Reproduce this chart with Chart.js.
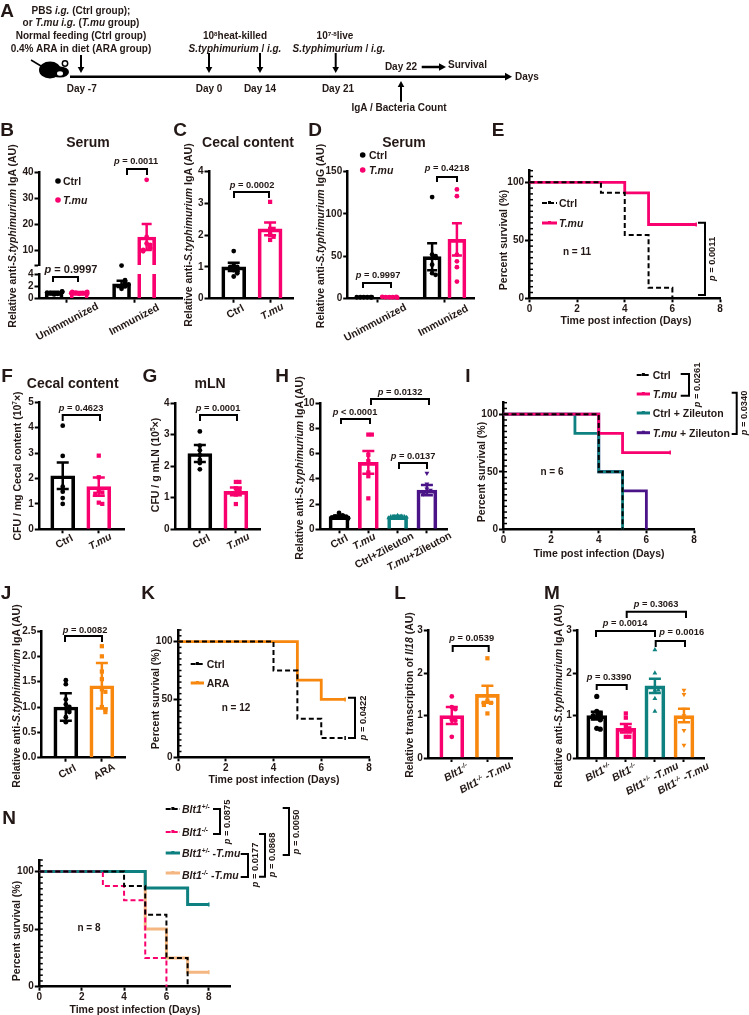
<!DOCTYPE html>
<html>
<head>
<meta charset="utf-8">
<script src="https://cdn.jsdelivr.net/npm/chart.js@4"></script>
<style>
  body { margin: 0; background: #fff; }
  #page { position: relative; width: 749px; height: 1015px; overflow: hidden; }
  #page canvas { position: absolute; left: 0; top: 0; }
  .t { position: absolute; white-space: nowrap; line-height: 1; font-weight: bold; color: #231815;
       font-family: "Liberation Sans", Arial, sans-serif; }
  sup { font-size: .62em; line-height: 0; vertical-align: .55em; }
</style>
</head>
<body>
<div id="page"></div>
<script>
// panel data
const unimmImm = ['Unimmunized', 'Immunized'];
const ctrlTmu = ['Ctrl', 'T.mu'];
const ctrlAra = ['Ctrl', 'ARA'];
const hCategories = ['Ctrl', 'T.mu', 'Ctrl+Zileuton', 'T.mu+Zileuton'];
const lCategories = ['Blt1-/-', 'Blt1-/- -T.mu'];
const mCategories = ['Blt1+/-', 'Blt1-/-', 'Blt1+/-  -T.mu', 'Blt1-/- -T.mu'];

const bMeans = [1.0, 1.0, 2.4, 15];
const bErrors = [0.12, 0.1, 0.5, 5];
const bCtrlUnimm = [0.7, 0.8, 0.9, 1.0, 1.0, 1.1, 1.2, 1.1];
const bTmuUnimm = [0.8, 0.9, 1.0, 1.0, 1.1, 1.1, 0.9, 0.8];
const bCtrlImm = [1.6, 2.0, 2.2, 2.5, 2.8, 3.0, 2.3, 4.0];
const bTmuImm = [37, 15, 12.5, 12, 11, 10.5, 10, 9.5];

const cMeans = [1.0, 2.2];
const cErrors = [0.13, 0.2];
const cCtrl = [1.5, 1.05, 1.0, 1.0, 0.9, 0.85, 0.8, 0.7];
const cTmu = [3.05, 2.2, 2.2, 2.1, 2.0, 1.95, 1.85];

const dMeans = [1.5, 1.5, 49.5, 70];
const dErrors = [0.5, 0.5, 16, 19];
const dCtrlUnimm = [1.5, 1.5, 1.5, 1.5, 1.5, 1.5];
const dTmuUnimm = [1.5, 1.5, 1.5, 2, 2, 1];
const dCtrlImm = [120, 52, 50, 48, 40, 30, 28];
const dTmuImm = [129, 121, 52, 44, 37, 20];

const fMeans = [2.11, 1.68];
const fErrors = [0.52, 0.36];
const fCtrl = [4.08, 2.89, 1.68, 1.48, 1.23, 1.0];
const fTmu = [2.9, 2.05, 1.5, 1.45, 1.4, 1.05, 1.0];

const gMeans = [2.4, 1.2];
const gErrors = [0.27, 0.12];
const gCtrl = [3.1, 2.65, 2.5, 2.35, 2.2, 2.1, 1.9];
const gTmu = [1.5, 1.5, 1.3, 1.25, 1.2, 1.1, 0.8];

const hMeans = [1.0, 5.3, 1.0, 3.1];
const hErrors = [0.1, 0.9, 0.08, 0.4];
const hCtrl = [1.3, 1.1, 1.05, 1.0, 1.0, 0.95, 0.9, 0.85];
const hTmu = [7.5, 7.5, 5.9, 5.4, 4.5, 4.2, 2.45];
const hCtrlZil = [1.1, 1.05, 1.0, 1.0, 1.0, 0.95, 0.9];
const hTmuZil = [4.45, 3.6, 3.2, 3.1, 3.0, 2.9, 2.8];

const jMeans = [1.0, 1.42];
const jErrors = [0.27, 0.45];
const jCtrl = [1.53, 1.45, 1.15, 1.05, 1.0, 0.95, 0.9, 0.8, 0.7];
const jAra = [2.2, 2.0, 1.7, 1.55, 1.35, 1.3, 1.0, 0.95, 0.9];

const lMeans = [1.0, 1.5];
const lErrors = [0.2, 0.2];
const lKo = [1.45, 1.2, 1.15, 0.9, 0.88, 0.5];
const lKoTmu = [2.35, 1.35, 1.3, 1.3, 1.25, 1.05];

const mMeans = [1.0, 0.7, 1.7, 1.0];
const mErrors = [0.09, 0.1, 0.17, 0.16];
const mHet = [1.45, 1.1, 1.05, 1.0, 1.0, 0.95, 0.9, 0.7, 0.68];
const mKo = [1.05, 0.95, 0.75, 0.7, 0.65, 0.5, 0.5];
const mHetTmu = [2.55, 2.0, 1.6, 1.6, 1.4, 1.1];
const mKoTmu = [1.6, 1.5, 1.15, 1.0, 0.65, 0.3];

const eCtrlDays = [0, 3, 4, 5, 6];
const eCtrlSurv = [100, 90.9, 54.5, 9.1, 0];
const eTmuDays = [0, 4, 5, 7];
const eTmuSurv = [100, 90.9, 63.6, 63.6];

const iCtrlDays = [0, 4, 5];
const iCtrlSurv = [100, 50, 0];
const iTmuDays = [0, 4, 5, 7];
const iTmuSurv = [100, 83.3, 66.7, 66.7];
const iCtrlZilDays = [0, 3, 4, 5];
const iCtrlZilSurv = [100, 83.3, 50, 0];
const iTmuZilDays = [0, 4, 5, 6];
const iTmuZilSurv = [100, 50, 33.3, 0];

const kCtrlDays = [0, 4, 5, 6, 7];
const kCtrlSurv = [100, 75, 33.3, 16.7, 16.7];
const kAraDays = [0, 5, 6, 7];
const kAraSurv = [100, 66.7, 50, 50];

const nHetDays = [0, 4, 5, 6, 7];
const nHetSurv = [100, 87.5, 62.5, 25, 0];
const nKoDays = [0, 3, 4, 5, 6];
const nKoSurv = [100, 87.5, 75, 25, 0];
const nHetTmuDays = [0, 5, 7, 8];
const nHetTmuSurv = [100, 85.7, 71.4, 71.4];
const nKoTmuDays = [0, 5, 6, 7, 8];
const nKoTmuSurv = [100, 50, 25, 12.5, 12.5];

const BLACK = '#000', PINK = '#f9006f', TEAL = '#0f8080', PURPLE = '#4a1488', ORANGE = '#f8870e', PEACH = '#f4b781';
const INK = '#231815';
const W = 749, H = 1015;
const YAXIS_W = 28, XAXIS_H = 26;
const page = document.getElementById('page');

Chart.defaults.animation = false;
Chart.defaults.font.family = '"Liberation Sans", Arial, sans-serif';
Chart.defaults.font.weight = 'bold';
Chart.defaults.font.size = 10;
Chart.defaults.color = INK;
Chart.defaults.plugins.legend.display = false;
Chart.defaults.plugins.tooltip.enabled = false;

function rich(s) {
  return s
    .replace(/T\.mu|S\.typhimurium|i\.g\.|Il18/g, '<i>$&</i>')
    .replace(/Blt1([+-]\/-)/g, '<i>Blt1<sup>$1</sup></i>')
    .replace(/^p /, '<i>p</i> ')
    .replace(/10\^(\S+?)\^/g, '10<sup>$1</sup>');
}

// text at page position: a is c(entre), l(eft) or r(ight), rot in degrees
function text(x, y, s, size, rot, a) {
  const d = document.createElement('div');
  d.className = 't';
  d.innerHTML = rich(s);
  d.style.left = x + 'px';
  d.style.top = y + 'px';
  d.style.fontSize = (size || 10) + 'px';
  const tx = a === 'l' ? '0' : a === 'r' ? '-100%' : '-50%';
  d.style.transform = 'translate(' + tx + ',-50%) rotate(' + (rot || 0) + 'deg)';
  page.appendChild(d);
}

function newCanvas() {
  const c = document.createElement('canvas');
  c.width = W; c.height = H;
  page.appendChild(c);
  return c;
}

function axisBase(range, ticks, extra) {
  return Object.assign({
    type: 'linear', min: range[0], max: range[1], offset: false,
    afterBuildTicks: s => { s.ticks = ticks.map(v => ({ value: v })); },
    grid: { offset: false, drawOnChartArea: false, drawTicks: true, tickLength: 4.5, tickWidth: 2, tickColor: '#000' },
    border: { display: true, width: 2.5, color: '#000' }
  }, extra);
}

// spread points that sit on top of each other sideways, like a beeswarm
function swarm(values, cx, pxX, pxY, limit) {
  return values.map((v, i) => {
    let n = 0;
    for (let j = 0; j < i; j++) if (Math.abs(values[j] - v) * pxY < 3) n++;
    const off = n === 0 ? 0 : (n % 2 ? 1 : -1) * Math.min(Math.ceil(n / 2) * 3.5, limit);
    return { x: cx + off / pxX, y: v };
  });
}

function barPanel(o) {
  const [l, t, r, b] = o.area;
  const pxX = (r - l) / (o.xRange[1] - o.xRange[0]);
  const pxY = (b - t) / (o.yRange[1] - o.yRange[0]);
  const barX = o.barX || o.means.map((m, i) => i);
  const thick = o.thick || 24;
  const inRange = v => v >= o.yRange[0] && (o.keep ? o.keep(v) : true);
  const datasets = o.groups.map((g, i) => ({
    type: 'scatter',
    data: swarm(g.values.filter(inRange), barX[i], pxX, pxY, thick / 2 - 1),
    backgroundColor: o.colors[i], borderWidth: 0, clip: false,
    pointStyle: g.shape || 'circle', pointRotation: g.rot || 0, pointRadius: g.r || 2.4, order: 1
  }));
  datasets.push({
    type: 'bar',
    data: o.means.map((m, i) => ({ x: barX[i], y: m })),
    backgroundColor: 'rgba(0,0,0,0)', borderColor: o.colors, borderWidth: 3,
    barThickness: thick, base: o.yRange[0], order: 3
  });
  const errorBars = {
    id: 'errorBars',
    afterDatasetsDraw(chart) {
      const ctx = chart.ctx, sx = chart.scales.x, sy = chart.scales.y, a = chart.chartArea;
      ctx.save();
      ctx.beginPath(); ctx.rect(0, a.top - 1, W, a.bottom - a.top + 1); ctx.clip();
      ctx.lineWidth = 2.5;
      o.means.forEach((m, i) => {
        ctx.strokeStyle = o.colors[i];
        const x = sx.getPixelForValue(barX[i]);
        const hi = sy.getPixelForValue(m + o.errors[i]), lo = sy.getPixelForValue(m - o.errors[i]);
        const cap = o.cap || 6;
        ctx.beginPath();
        ctx.moveTo(x, hi); ctx.lineTo(x, lo);
        ctx.moveTo(x - cap, hi); ctx.lineTo(x + cap, hi);
        ctx.moveTo(x - cap, lo); ctx.lineTo(x + cap, lo);
        ctx.stroke();
      });
      ctx.restore();
    }
  };
  const yOpts = axisBase(o.yRange, o.yTicks, {
    afterFit: s => { s.width = YAXIS_W; },
    ticks: { padding: 1, autoSkip: false, callback: o.yFmt || (v => v) }
  });
  const xOpts = axisBase(o.xRange, o.xTicks || (o.labels || []).map((c, i) => i), {
    display: !o.noX,
    afterFit: s => { s.height = o.noX ? 0 : XAXIS_H; },
    ticks: { display: false, autoSkip: false }
  });
  xOpts.grid.tickLength = 4;
  const chart = new Chart(newCanvas(), {
    type: 'bar',
    data: { datasets },
    options: {
      responsive: false,
      layout: { padding: { left: l - YAXIS_W, top: t, right: W - r, bottom: H - b - (o.noX ? 0 : XAXIS_H) } },
      scales: { x: xOpts, y: yOpts }
    },
    plugins: [errorBars]
  });
  (o.labels || []).forEach((s, i) => {
    const dx = o.labelDx ? o.labelDx[i] : 0;
    const dy = o.labelDy ? o.labelDy[i] : 12;
    text(chart.scales.x.getPixelForValue(i) + dx, b + dy, s, o.labelSize || 10.5, -28);
  });
  return chart;
}

function kmPanel(o) {
  const [l, t, r, b] = o.area;
  const minor = {
    id: 'minorTicks',
    afterDraw(chart) {
      const ctx = chart.ctx, sy = chart.scales.y;
      ctx.save();
      ctx.strokeStyle = '#000'; ctx.lineWidth = 1.5;
      for (let v = 0; v <= 110; v += 5) {
        const y = sy.getPixelForValue(v);
        ctx.beginPath(); ctx.moveTo(l, y); ctx.lineTo(l + 3.5, y); ctx.stroke();
      }
      ctx.restore();
    }
  };
  const datasets = o.series.map(s => ({
    type: 'line',
    data: s.days.map((d, i) => ({ x: d, y: s.surv[i] })),
    stepped: 'before', borderColor: s.color, borderWidth: s.w || 2.8, borderDash: s.dash || [],
    borderCapStyle: 'butt', borderJoinStyle: 'miter', fill: false, clip: false,
    pointStyle: 'line', pointRotation: 90, pointBorderColor: s.color, pointBorderWidth: 1.5,
    pointRadius: c => (c.dataIndex === s.days.length - 1 && s.surv[c.dataIndex] > 0 ? 2 : 0)
  }));
  const yOpts = axisBase([0, 110], [0, 50, 100], {
    afterFit: s => { s.width = YAXIS_W; },
    ticks: { padding: 1, autoSkip: false }
  });
  const xOpts = axisBase([0, o.xMax || 8], [0, 2, 4, 6, 8], {
    afterFit: s => { s.height = XAXIS_H; },
    ticks: { padding: 1, autoSkip: false, maxRotation: 0 }
  });
  xOpts.grid.tickLength = 4;
  return new Chart(newCanvas(), {
    type: 'line',
    data: { datasets },
    options: {
      responsive: false,
      layout: { padding: { left: l - YAXIS_W, top: t, right: W - r, bottom: H - b - XAXIS_H } },
      scales: { x: xOpts, y: yOpts }
    },
    plugins: [minor]
  });
}

// ---- B has a broken axis, so it is two charts on the same x range
const bBarX = [-0.186, 0.186, 0.814, 1.186];
const bColors = [BLACK, PINK, BLACK, PINK];
const bGroups = [{ values: bCtrlUnimm }, { values: bTmuUnimm }, { values: bCtrlImm }, { values: bTmuImm }];
barPanel({ area: [39, 172, 182, 265.6], xRange: [-0.41, 1.71], yRange: [4, 40], yTicks: [4, 10, 20, 30, 40], xTicks: [0, 1],
  yFmt: v => (v === 4 ? ' ' : v), barX: bBarX, means: bMeans.map(m => (m < 4 ? 3 : m)), errors: bErrors.map((e, i) => (bMeans[i] < 4 ? 0 : e)),
  colors: bColors, groups: bGroups, thick: 18, noX: true, keep: v => v >= 4, cap: 5 });
barPanel({ area: [39, 274, 182, 298.7], xRange: [-0.41, 1.71], yRange: [0, 4], yTicks: [0, 2, 4], xTicks: [0, 1],
  barX: bBarX, means: bMeans, errors: bErrors, colors: bColors, groups: bGroups, thick: 18, keep: v => v < 4, cap: 5,
  labels: unimmImm, labelDx: [0, 0], labelDy: [22, 20] });

barPanel({ area: [209, 171.7, 293, 298.7], xRange: [-0.68, 1.63], yRange: [0, 4], yTicks: [0, 1, 2, 3, 4],
  means: cMeans, errors: cErrors, colors: [BLACK, PINK], groups: [{ values: cCtrl }, { values: cTmu, shape: 'rect', r: 3 }],
  labels: ctrlTmu, labelDx: [1, 2] });

barPanel({ area: [347.7, 171.7, 475, 298.5], xRange: [-0.44, 1.46], yRange: [0, 150], yTicks: [0, 50, 100, 150], xTicks: [0, 1],
  barX: [-0.2, 0.18, 0.82, 1.19], means: dMeans, errors: dErrors, colors: bColors, thick: 18, cap: 5,
  groups: [{ values: dCtrlUnimm }, { values: dTmuUnimm }, { values: dCtrlImm }, { values: dTmuImm }],
  labels: unimmImm, labelDx: [-2, -1], labelDy: [23, 21] });

barPanel({ area: [39.3, 402.3, 124, 529.3], xRange: [-0.65, 1.7], yRange: [0, 5], yTicks: [0, 1, 2, 3, 4, 5],
  means: fMeans, errors: fErrors, colors: [BLACK, PINK], groups: [{ values: fCtrl }, { values: fTmu, shape: 'rect', r: 3 }],
  labels: ctrlTmu, labelDx: [1, 1] });

barPanel({ area: [175, 403, 260.7, 529.3], xRange: [-0.69, 1.69], yRange: [0, 4], yTicks: [0, 1, 2, 3, 4],
  means: gMeans, errors: gErrors, colors: [BLACK, PINK], groups: [{ values: gCtrl }, { values: gTmu, shape: 'rect', r: 3 }],
  labels: ctrlTmu, labelDx: [1, 2] });

barPanel({ area: [320, 403, 447.7, 529.3], xRange: [-0.65, 3.71], yRange: [0, 10], yTicks: [0, 2, 4, 6, 8, 10],
  means: hMeans, errors: hErrors, colors: [BLACK, PINK, TEAL, PURPLE], thick: 20,
  groups: [{ values: hCtrl }, { values: hTmu, shape: 'rect', r: 3 }, { values: hCtrlZil, shape: 'triangle', r: 2.6 }, { values: hTmuZil, shape: 'triangle', rot: 180, r: 2.8 }],
  labels: hCategories, labelDx: [0, -4, -14, -7.5], labelDy: [12, 12, 21, 22] });

barPanel({ area: [41.7, 631, 126, 757.7], xRange: [-0.67, 1.67], yRange: [0, 2.5], yTicks: [0, 0.5, 1, 1.5, 2, 2.5], yFmt: v => v.toFixed(1),
  means: jMeans, errors: jErrors, colors: [BLACK, ORANGE], groups: [{ values: jCtrl }, { values: jAra, shape: 'rect', r: 3 }],
  labels: ctrlAra, labelDx: [1, 2], labelDy: [13, 13] });

barPanel({ area: [428.3, 630.7, 512.7, 758], xRange: [-0.66, 1.71], yRange: [0, 3], yTicks: [0, 1, 2, 3],
  means: lMeans, errors: lErrors, colors: [PINK, ORANGE], groups: [{ values: lKo }, { values: lKoTmu, shape: 'rect', r: 3 }],
  labels: lCategories, labelDx: [3.7, -2.3], labelDy: [14, 19], labelSize: 10.5 });

barPanel({ area: [577.3, 630.7, 704, 758], xRange: [-0.67, 3.69], yRange: [0, 3], yTicks: [0, 1, 2, 3],
  means: mMeans, errors: mErrors, colors: [BLACK, PINK, TEAL, ORANGE], thick: 20,
  groups: [{ values: mHet, r: 2.6 }, { values: mKo, shape: 'rect', r: 3 }, { values: mHetTmu, shape: 'triangle', r: 2.8 }, { values: mKoTmu, shape: 'triangle', rot: 180, r: 2.8 }],
  labels: mCategories, labelDx: [1.3, -1.7, -3.3, -1.3], labelDy: [14, 14, 20, 20] });

kmPanel({ area: [529.5, 170.7, 720, 298.3], series: [
  { days: eCtrlDays, surv: eCtrlSurv, color: BLACK, dash: [5, 3], w: 2 },
  { days: eTmuDays, surv: eTmuSurv, color: PINK }] });
kmPanel({ area: [503.5, 402.7, 694, 529.3], series: [
  { days: iCtrlDays, surv: iCtrlSurv, color: BLACK, dash: [5, 3], w: 2 },
  { days: iTmuDays, surv: iTmuSurv, color: PINK },
  { days: iCtrlZilDays, surv: iCtrlZilSurv, color: TEAL },
  { days: iTmuZilDays, surv: iTmuZilSurv, color: PURPLE }] });
kmPanel({ area: [178, 630, 369, 757.3], series: [
  { days: kCtrlDays, surv: kCtrlSurv, color: BLACK, dash: [5, 3], w: 2 },
  { days: kAraDays, surv: kAraSurv, color: ORANGE }] });
kmPanel({ area: [39.3, 860, 230, 986.7], xMax: 9, series: [
  { days: nHetDays, surv: nHetSurv, color: BLACK, dash: [5, 3], w: 2 },
  { days: nKoDays, surv: nKoSurv, color: PINK, dash: [5, 3], w: 2 },
  { days: nHetTmuDays, surv: nHetTmuSurv, color: TEAL, w: 3 },
  { days: nKoTmuDays, surv: nKoTmuSurv, color: PEACH, w: 3 }] });

// ---- brackets, legend keys and the timeline of panel A
const deco = newCanvas().getContext('2d');
deco.strokeStyle = '#000'; deco.fillStyle = '#000'; deco.lineWidth = 2; deco.lineJoin = 'miter';

function topBracket(x0, x1, y, y2) {
  deco.beginPath(); deco.moveTo(x0, y2); deco.lineTo(x0, y); deco.lineTo(x1, y); deco.lineTo(x1, y2); deco.stroke();
}
function sideBracket(x0, x1, y0, y1) {
  deco.beginPath(); deco.moveTo(x0, y0); deco.lineTo(x1, y0); deco.lineTo(x1, y1); deco.lineTo(x0, y1); deco.stroke();
}
function arrow(x0, y0, x1, y1, w, head) {
  const a = Math.atan2(y1 - y0, x1 - x0);
  deco.save();
  deco.lineWidth = w;
  deco.beginPath(); deco.moveTo(x0, y0); deco.lineTo(x1 - Math.cos(a) * head, y1 - Math.sin(a) * head); deco.stroke();
  deco.translate(x1, y1); deco.rotate(a);
  deco.beginPath(); deco.moveTo(0, 0); deco.lineTo(-head, -head * 0.55); deco.lineTo(-head, head * 0.55); deco.closePath(); deco.fill();
  deco.restore();
}
function key(x0, x1, y, color, w, dash) {
  deco.save();
  deco.strokeStyle = color; deco.fillStyle = color; deco.lineWidth = w;
  deco.setLineDash(dash ? [5, 2] : []);
  deco.beginPath(); deco.moveTo(x0, y); deco.lineTo(x1, y); deco.stroke();
  deco.fillRect((x0 + x1) / 2 - 1.5, y - 2, 3, 3);
  deco.restore();
}
function dot(x, y, color) {
  deco.save(); deco.fillStyle = color;
  deco.beginPath(); deco.arc(x, y, 2.8, 0, Math.PI * 2); deco.fill();
  deco.restore();
}

topBracket(53, 78, 277, 282); topBracket(127, 147, 169, 175);
topBracket(234, 269, 192, 198);
topBracket(363, 391, 283, 288); topBracket(437, 457, 177, 182);
topBracket(62.7, 100, 415, 421); topBracket(200, 237, 415, 421);
topBracket(341, 370, 419, 424); topBracket(371, 429, 399, 405); topBracket(399, 427, 463, 469);
topBracket(65, 102, 636, 642); topBracket(452.7, 488.7, 646, 652);
topBracket(596.7, 626.7, 685, 690); topBracket(596, 655, 631, 637);
topBracket(655.7, 685, 641, 647); topBracket(626.7, 686, 611.7, 618);
sideBracket(698, 705, 222.7, 295);
sideBracket(680.7, 689, 374, 395.7); sideBracket(731.7, 736.7, 392.7, 434);
sideBracket(348, 355, 697.7, 738);
sideBracket(213, 220, 809, 834); sideBracket(240.7, 248, 854, 877);
sideBracket(259, 265, 834, 876.7); sideBracket(282.7, 289, 808, 855);

dot(58, 181, BLACK); dot(58, 200, PINK);
dot(362.7, 155, BLACK); dot(362.7, 170, PINK);
key(542, 557, 203, BLACK, 2, true); key(542, 557, 223, PINK, 3);
key(636.7, 650, 375, BLACK, 2, true); key(636.7, 650, 394, PINK, 3);
key(636.7, 650, 413, TEAL, 3); key(636.7, 650, 432.7, PURPLE, 3);
key(190.7, 204, 664, BLACK, 2, true); key(190.7, 204, 683, ORANGE, 3);
key(165.7, 180, 809, BLACK, 2, true); key(165.7, 180, 832, PINK, 2, true);
key(165.7, 180, 853, TEAL, 3); key(165.7, 180, 873, PEACH, 3);

// timeline
arrow(70, 76.7, 512, 76.7, 2.5, 7);
arrow(81, 55, 81, 73, 2, 6); arrow(209, 53, 209, 73, 2, 6);
arrow(260, 53, 260, 73, 2, 6); arrow(335.7, 53, 335.7, 73, 2, 6);
arrow(421.7, 67, 446, 67, 2.5, 7); arrow(401, 101.7, 401, 81, 2, 6);
// mouse
deco.beginPath(); deco.ellipse(50, 70, 11, 8.5, 0, 0, Math.PI * 2); deco.fill();
deco.beginPath(); deco.ellipse(60, 72, 9, 5.5, 0, 0, Math.PI * 2); deco.fill();
deco.beginPath(); deco.arc(65, 63.5, 3.4, 0, Math.PI * 2); deco.fill();
deco.fillStyle = '#fff';
deco.beginPath(); deco.arc(65, 63.5, 1.9, 0, Math.PI * 2); deco.fill();
deco.beginPath(); deco.ellipse(60, 73.5, 3, 2.2, 0, 0, Math.PI * 2); deco.fill();
deco.fillStyle = '#000'; deco.lineWidth = 1.5;
deco.beginPath(); deco.moveTo(41, 66); deco.lineTo(36, 63); deco.lineTo(31, 60); deco.stroke();

// ---- texts
const letters = [['A', 7, 10], ['B', 7, 129], ['C', 180, 129], ['D', 315, 129], ['E', 498, 129], ['F', 7, 375], ['G', 150, 375],
  ['H', 282, 375], ['I', 468, 375], ['J', 6, 592], ['K', 148, 592], ['L', 400, 592], ['M', 552, 592], ['N', 9, 817]];
letters.forEach(l => text(l[1], l[2], l[0], 19));

[['Serum', 88, 142], ['Cecal content', 248, 142], ['Serum', 404, 142], ['Cecal content', 72.7, 383], ['mLN', 210, 383]]
  .forEach(t => text(t[1], t[2], t[0], 14));

const igaTitle = 'Relative anti-S.typhimurium IgA (AU)';
[[igaTitle, 12, 236], [igaTitle, 188, 235], ['Relative anti-S.typhimurium IgG (AU)', 320, 236],
 ['CFU / mg Cecal content (10^7^×)', 17, 466], ['CFU / g mLN (10^5^×)', 155, 465], [igaTitle, 299, 468],
 [igaTitle, 16, 696], ['Relative transcription of Il18 (AU)', 409, 695], [igaTitle, 558, 696],
 ['Percent survival (%)', 503, 240], ['Percent survival (%)', 480.7, 472], ['Percent survival (%)', 155, 699], ['Percent survival (%)', 16, 931]]
  .forEach(t => text(t[1], t[2], t[0], 10.5, -90));
[[350 + 828 / 3, 320], [599, 553], [274, 779], [135, 1009]].forEach(p => text(p[0], p[1], 'Time post infection (Days)', 10.5));

[['p = 0.0011', 136, 162], ['p = 0.0002', 252, 186], ['p = 0.9997', 378, 276], ['p = 0.4218', 447, 169],
 ['p = 0.4623', 81, 408.7], ['p = 0.0001', 218, 408.7], ['p < 0.0001', 355, 413], ['p = 0.0132', 400, 393], ['p = 0.0137', 413, 457],
 ['p = 0.0082', 85, 630.7], ['p = 0.0539', 471.7, 639], ['p = 0.3390', 609, 678], ['p = 0.0014', 625, 624],
 ['p = 0.0016', 681.7, 633], ['p = 0.3063', 656, 605]].forEach(t => text(t[1], t[2], t[0], 9.3));
text(71, 269, 'p = 0.9997', 11);
[['p = 0.0011', 713, 259], ['p = 0.0261', 698, 385], ['p = 0.0340', 745, 413], ['p = 0.0422', 364, 718],
 ['p = 0.0875', 227.7, 821.7], ['p = 0.0177', 256, 865], ['p = 0.0868', 273, 855], ['p = 0.0050', 297, 831.7]]
  .forEach(t => text(t[1], t[2], t[0], 9.3, -90));

[['n = 11', 577, 252], ['n = 6', 552, 472], ['n = 12', 236, 707.7], ['n = 8', 89, 928]].forEach(t => text(t[1], t[2], t[0], 10));

[['Ctrl', 63, 181], ['T.mu', 63, 200], ['Ctrl', 369, 155], ['T.mu', 369, 170], ['Ctrl', 559, 203], ['T.mu', 559, 223],
 ['Ctrl', 652.7, 375], ['T.mu', 652.7, 394], ['Ctrl + Zileuton', 652.7, 413], ['T.mu + Zileuton', 652.7, 432.7],
 ['Ctrl', 206.7, 664], ['ARA', 206.7, 683], ['Blt1+/-', 182, 809], ['Blt1-/-', 182, 832], ['Blt1+/- -T.mu', 182, 853], ['Blt1-/- -T.mu', 182, 875]]
  .forEach(t => text(t[1], t[2], t[0], 10.5, 0, 'l'));

[['PBS i.g. (Ctrl group);', 81, 10.7], ['or T.mu i.g. (T.mu group)', 81, 23], ['Normal feeding (Ctrl group)', 81, 36],
 ['0.4% ARA in diet (ARA group)', 81, 49], ['10^8^heat-killed', 235, 36], ['S.typhimurium / i.g.', 235, 49],
 ['10^7-8^live', 335, 36], ['S.typhimurium / i.g.', 339, 49], ['Day -7', 81.7, 89], ['Day 0', 209, 89], ['Day 14', 260, 89],
 ['Day 21', 338, 89], ['Day 22', 401, 66.7], ['IgA / Bacteria Count', 399, 108]].forEach(t => text(t[1], t[2], t[0], 10));
text(448, 65, 'Survival', 10, 0, 'l');
text(515, 76.7, 'Days', 10, 0, 'l');
</script>
</body>
</html>
